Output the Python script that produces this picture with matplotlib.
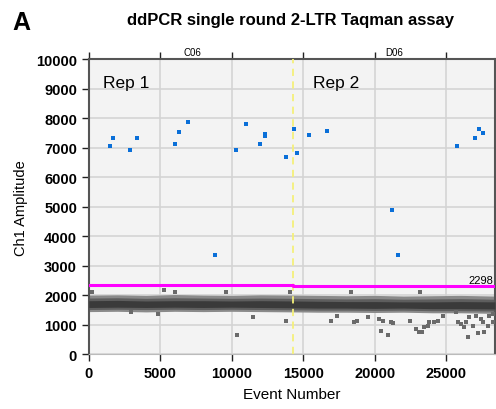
import matplotlib
matplotlib.use("Agg")
from matplotlib import pyplot as plt

plt.rcParams['font.family'] = ['Liberation Sans', 'DejaVu Sans']

# positive droplets (blue)
pos_event = [1450, 1700, 2910, 3380, 6030, 6285, 6935, 8820, 10265, 10985, 11990, 12310,
             12310, 13780, 14340, 14525, 15385, 16640, 21205, 21600, 25720, 26980, 27260, 27580]
pos_amp = [7050, 7345, 6915, 7345, 7140, 7535, 7880, 3345, 6915, 7795, 7140, 7480,
           7400, 6700, 7625, 6825, 7435, 7570, 4890, 3345, 7050, 7345, 7640, 7500]

# negative droplet cloud: outer, middle and core envelopes
band_event = [0, 2000, 4000, 6000, 8000, 10000, 12000, 14300, 16000, 18000, 20000, 22000, 24000, 26000, 28400]
band_top = [2000, 2010, 1990, 2020, 2000, 1990, 2010, 2000, 1990, 1980, 1990, 1970, 1980, 1990, 1970]
band_bot = [1440, 1450, 1430, 1450, 1440, 1450, 1440, 1430, 1420, 1420, 1410, 1420, 1400, 1400, 1380]
mid_top = [1900, 1910, 1890, 1910, 1900, 1890, 1900, 1890, 1880, 1870, 1880, 1860, 1870, 1880, 1860]
mid_bot = [1510, 1520, 1510, 1520, 1510, 1520, 1510, 1500, 1490, 1490, 1480, 1490, 1470, 1470, 1460]
core_top = [1810, 1820, 1800, 1810, 1810, 1800, 1810, 1800, 1790, 1780, 1780, 1770, 1770, 1780, 1770]
core_bot = [1580, 1590, 1580, 1590, 1580, 1590, 1580, 1570, 1560, 1560, 1550, 1560, 1540, 1540, 1530]

# scattered negative droplets outside the cloud
neg_event = [190, 5240, 6030, 2960, 4840, 10360, 9610, 14040, 13760, 11480, 16950, 17360,
             18340, 18530, 18760, 19510, 20270, 20430, 20600, 20900, 21140, 21300, 22490,
             22880, 23110, 23270, 23180, 23460, 23700, 23810, 24160, 24390, 24740, 25670,
             25790, 26020, 26250, 26490, 26370, 26610, 26840, 27190, 27070, 27530, 27650,
             27880, 28000, 28230, 27420, 28230]
neg_amp = [2110, 2180, 2110, 1410, 1355, 645, 2090, 2110, 1130, 1265, 1130, 1300,
           2090, 1075, 1130, 1245, 1185, 790, 1130, 655, 1075, 1040, 1130,
           850, 735, 735, 2110, 905, 960, 1075, 1095, 1130, 1300, 1410,
           1075, 1015, 905, 565, 1075, 1245, 960, 710, 1300, 1075, 735,
           960, 1300, 1075, 1185, 1355]

threshold_event = [0, 14300, 14300, 28400]
threshold_amp = [2340, 2340, 2298, 2298]
well_split = 14300
well_labels = ["C06", "D06"]
well_centers = [7240, 21370]

fig = plt.figure(figsize=(4.96, 4.10), dpi=100)
ax = fig.add_axes([0.179, 0.134, 0.819, 0.719])
ax.set_facecolor("#f3f3f3")

ax.fill_between(band_event, band_bot, band_top, color="#8a8a8a", lw=0, zorder=2)
ax.fill_between(band_event, mid_bot, mid_top, color="#5e5e5e", lw=0, zorder=2)
ax.fill_between(band_event, core_bot, core_top, color="#3a3a3a", lw=0, zorder=3)
ax.scatter(neg_event, neg_amp, marker="s", s=5, color="#6a6a6a", lw=0, zorder=3)
ax.scatter(pos_event, pos_amp, marker="s", s=7, color="#0a6fd8", lw=0, zorder=4)

ax.plot(threshold_event, threshold_amp, color="#ff00ff", lw=2.2, zorder=5)
ax.axvline(well_split, color="#f5f07a", lw=1.3, ls=(0, (4, 3)), zorder=4)

ax.set_xlim(0, 28400)
ax.set_ylim(0, 10000)
ax.set_xticks(range(0, 28000, 5000))
ax.set_yticks(range(0, 10001, 1000))
ax.grid(color="#d4d4d4", lw=1.2, zorder=0)
ax.set_axisbelow(True)

for lab in ax.get_xticklabels() + ax.get_yticklabels():
    lab.set_fontweight("bold")
ax.tick_params(axis="both", labelsize=10.5, color="#222222", length=5, width=1)
ax.tick_params(axis="x", top=True, direction="out")
for s in ["left", "right", "top"]:
    ax.spines[s].set_color("#555555")
    ax.spines[s].set_linewidth(1.5)
ax.spines["bottom"].set_color("#bbbbbb")

ax.set_xlabel("Event Number", fontsize=11, labelpad=5)
ax.set_ylabel("Ch1 Amplitude", fontsize=10.5, labelpad=6)

for lab, c in zip(well_labels, well_centers):
    ax.text(c, 10080, lab, fontsize=7, ha="center", va="bottom")

ax.text(28300, 2330, "2298", fontsize=8, ha="right", va="bottom")
ax.text(1000, 8950, "Rep 1", fontsize=12.5, ha="left", va="bottom")
ax.text(15700, 8950, "Rep 2", fontsize=12.5, ha="left", va="bottom")

fig.text(0.025, 0.945, "A", fontsize=18, fontweight="bold", va="center")
fig.text(0.585, 0.951, "ddPCR single round 2-LTR Taqman assay", fontsize=12,
         fontweight="bold", ha="center", va="center")

fig.savefig("out.png", dpi=100)
